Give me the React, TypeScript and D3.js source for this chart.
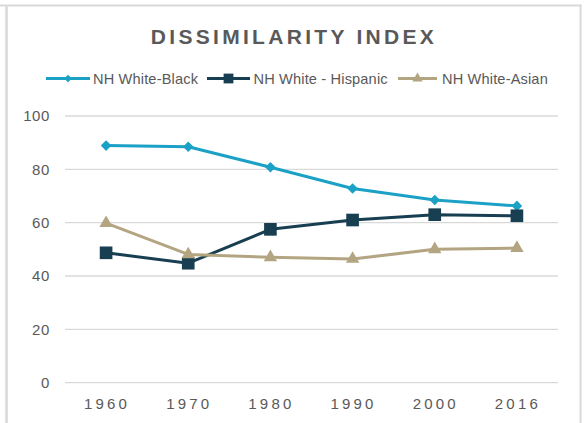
import React from "react";
import * as d3 from "d3";

const years = ["1960", "1970", "1980", "1990", "2000", "2016"];
const whiteBlack = [88.9, 88.5, 80.8, 72.8, 68.5, 66.3];
const whiteHispanic = [48.7, 44.8, 57.5, 61.0, 63.0, 62.6];
const whiteAsian = [59.8, 48.1, 47.0, 46.4, 50.0, 50.5];
const yTicks = [0, 20, 40, 60, 80, 100];
const seriesNames = ["NH White-Black", "NH White - Hispanic", "NH White-Asian"];

const W = 584;
const H = 423;
const FONT = "'Liberation Sans', Arial, Helvetica, sans-serif";
const TEXT = "#595959";
const GRID = "#d9d9d9";
const COLORS = ["#1ba1c6", "#173f51", "#b4a582"];

export default function App() {
  const x = d3.scaleBand<string>().domain(years).range([65, 558]);
  const y = d3.scaleLinear().domain([0, 100]).range([382.7, 116]);
  const cx = (yr: string) => (x(yr) as number) + x.bandwidth() / 2;

  const series = [
    { name: seriesNames[0], values: whiteBlack, color: COLORS[0], kind: "diamond" },
    { name: seriesNames[1], values: whiteHispanic, color: COLORS[1], kind: "square" },
    { name: seriesNames[2], values: whiteAsian, color: COLORS[2], kind: "triangle" },
  ];

  const lineGen = d3
    .line<number>()
    .x((_, i) => cx(years[i]))
    .y((d) => y(d));

  const markerPath = (kind: string, scale = 1) => {
    if (kind === "diamond") return d3.symbol().type(d3.symbolSquare).size(56 * scale)() as string;
    if (kind === "square") return d3.symbol().type(d3.symbolSquare).size(160 * scale)() as string;
    return d3.symbol().type(d3.symbolTriangle).size(78 * scale)() as string;
  };

  const legendItems = [
    { lineX0: 46, lineX1: 90, textX: 93 },
    { lineX0: 207, lineX1: 250, textX: 253.5 },
    { lineX0: 398, lineX1: 437, textX: 442 },
  ];
  const legendY = 78.5;

  return (
    <svg
      width={W}
      height={H}
      style={{ position: "absolute", left: 0, top: 0, background: "#fff" }}
      fontFamily={FONT}
    >
      <rect x={0} y={0} width={W} height={H} fill="#fff" />
      {/* frame */}
      <line x1={0} x2={582} y1={5.5} y2={5.5} stroke={GRID} strokeWidth={2} />
      <line x1={6.5} x2={6.5} y1={5} y2={H} stroke={GRID} strokeWidth={2.5} />
      <line x1={580.5} x2={580.5} y1={5} y2={H} stroke={GRID} strokeWidth={2} />

      {/* title */}
      <text
        x={294}
        y={44}
        textAnchor="middle"
        fontSize={21}
        fontWeight="bold"
        fill={TEXT}
        letterSpacing={3.3}
      >
        DISSIMILARITY INDEX
      </text>

      {/* legend */}
      {series.map((s, i) => {
        const it = legendItems[i];
        const mx = (it.lineX0 + it.lineX1) / 2;
        return (
          <g key={s.name}>
            <line x1={it.lineX0} x2={it.lineX1} y1={legendY} y2={legendY} stroke={s.color} strokeWidth={3} />
            <path
              d={markerPath(s.kind, s.kind === "diamond" ? 0.5 : 0.6)}
              transform={`translate(${mx},${legendY})${s.kind === "diamond" ? " rotate(45)" : ""}`}
              fill={s.color}
            />
            <text x={it.textX} y={legendY + 5} fontSize={14.6} fill={TEXT} letterSpacing={0.15}>
              {s.name}
            </text>
          </g>
        );
      })}

      {/* gridlines */}
      {yTicks.map((t) => (
        <g key={t}>
          <line x1={65} x2={558} y1={y(t)} y2={y(t)} stroke={GRID} strokeWidth={1.3} />
          <text x={50} y={y(t) + 5.2} textAnchor="end" fontSize={15} fill={TEXT} letterSpacing={0.6}>
            {t}
          </text>
        </g>
      ))}

      {/* x labels */}
      {years.map((yr) => (
        <text key={yr} x={cx(yr) + 1} y={408.5} textAnchor="middle" fontSize={15} fill={TEXT} letterSpacing={3.2}>
          {yr}
        </text>
      ))}

      {/* series */}
      {series.map((s) => (
        <g key={s.name}>
          <path d={lineGen(s.values) as string} fill="none" stroke={s.color} strokeWidth={3} strokeLinejoin="round" />
          {s.values.map((v, i) => (
            <path
              key={i}
              d={markerPath(s.kind)}
              transform={`translate(${cx(years[i])},${y(v)})${s.kind === "diamond" ? " rotate(45)" : ""}`}
              fill={s.color}
            />
          ))}
        </g>
      ))}
    </svg>
  );
}
